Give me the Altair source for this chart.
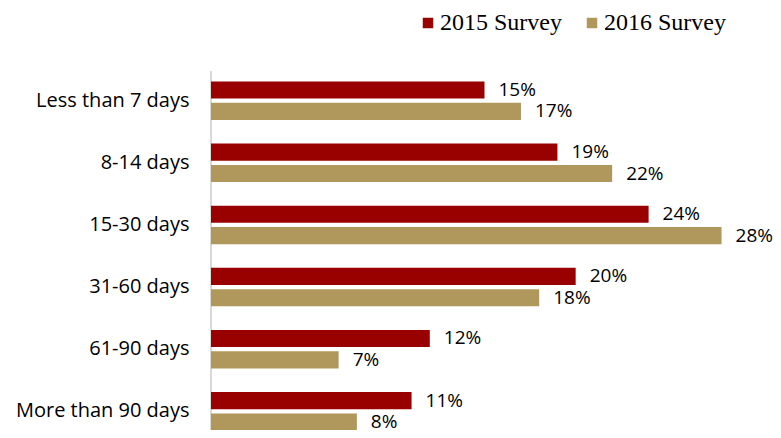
import altair as alt
import pandas as pd

categories = ["Less than 7 days", "8-14 days", "15-30 days", "31-60 days", "61-90 days", "More than 90 days"]
series = ["2015 Survey", "2016 Survey"]
values_2015 = [15, 19, 24, 20, 12, 11]
values_2016 = [17, 22, 28, 18, 7, 8]
colors = ["#990000", "#B0975B"]

rows = []
for c, a, b in zip(categories, values_2015, values_2016):
    rows.append({"category": c, "survey": series[0], "value": a, "label": f"{a}%"})
    rows.append({"category": c, "survey": series[1], "value": b, "label": f"{b}%"})
df = pd.DataFrame(rows)

FONT = "Open Sans"

base = alt.Chart(df).encode(
    y=alt.Y("category:N", sort=categories, title=None,
            scale=alt.Scale(paddingInner=0.38, paddingOuter=0.2, range=[0, 374]),
            axis=alt.Axis(ticks=False, domain=False, labelFont=FONT, labelFontSize=20,
                          labelColor="#000000", labelPadding=22, labelLimit=300)),
    yOffset=alt.YOffset("survey:N", sort=series, scale=alt.Scale(paddingInner=0.2)),
)

bars = base.mark_bar().encode(
    x=alt.X("value:Q", scale=alt.Scale(domain=[0, 30]), axis=None),
    color=alt.Color("survey:N", sort=series,
                    scale=alt.Scale(domain=series, range=colors),
                    legend=alt.Legend(title=None, orient="none", direction="horizontal",
                                      legendX=205, legendY=-58, symbolType="square",
                                      symbolSize=110, symbolStrokeWidth=0,
                                      labelFont="Liberation Serif", labelFontSize=24,
                                      labelColor="#000000", columnPadding=18,
                                      labelOffset=0)),
)

text = base.mark_text(align="left", baseline="middle", dx=14, font=FONT,
                      fontSize=19, color="#000000").encode(
    x=alt.X("value:Q"),
    text="label:N",
)

axisline = alt.Chart(pd.DataFrame({"v": [0]})).mark_rule(color="#d9d9d9", strokeWidth=2).encode(
    x=alt.value(0), y=alt.value(2), y2=alt.value(380)
)

chart = alt.layer(axisline, bars, text).properties(
    width=547, height=361,
    autosize=alt.AutoSizeParams(type="none"),
    padding={"left": 203, "top": 61, "right": 15, "bottom": 0},
).configure_view(stroke=None)

chart.save("out.html", embed_options={"renderer": "svg", "actions": False})
